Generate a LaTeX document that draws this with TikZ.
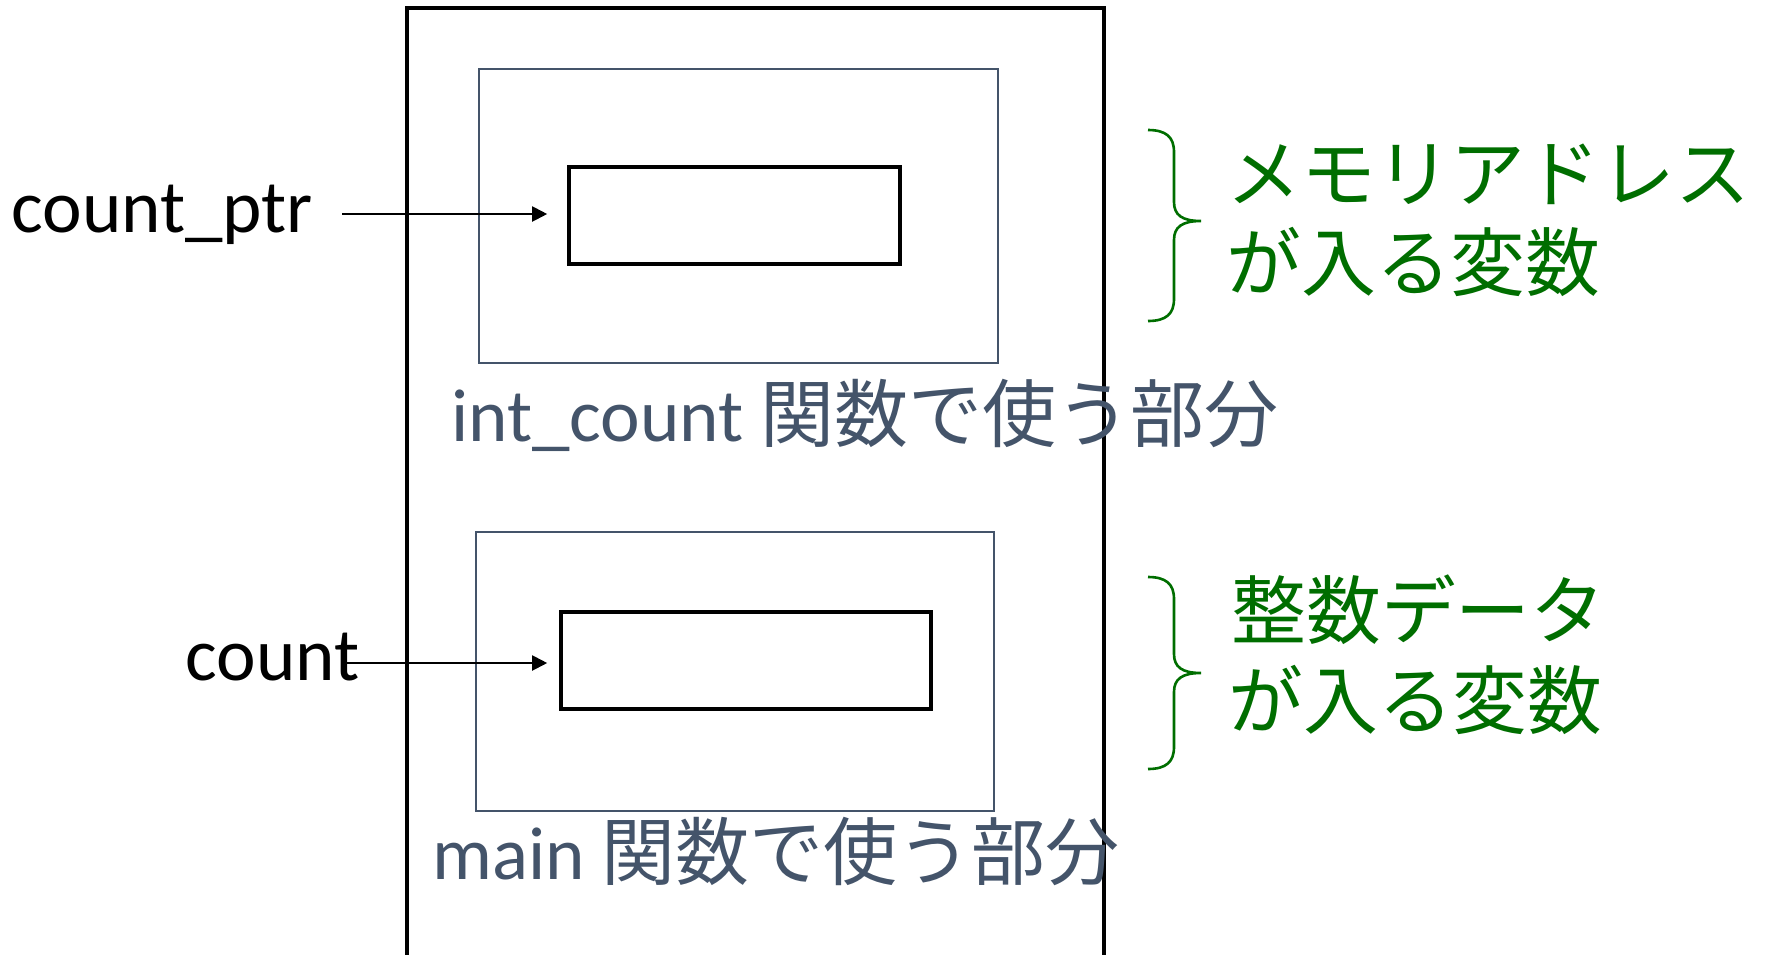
\documentclass[tikz,border=0pt]{standalone}
\usepackage{fontspec}
\setmainfont{Carlito}
\newfontfamily\jpfont{Noto Sans CJK JP}
\usetikzlibrary{arrows.meta}
\definecolor{slate}{HTML}{44546A}
\definecolor{notegreen}{RGB}{0,110,0}
\begin{document}
\begin{tikzpicture}[x=0.5pt,y=-0.5pt,
  framestyle/.style={line width=1.6pt},
  region/.style={draw=slate, line width=0.9pt, inner sep=0pt, rectangle},
  cell/.style={draw=black, line width=1.8pt, inner sep=0pt, rectangle},
  lbl/.style={anchor=base west, inner sep=0pt, font=\fontsize{37.5}{44}\selectfont},
  regionlbl/.style={lbl, text=slate},
  jplbl/.style={font=\fontsize{37}{44}\selectfont\jpfont},
  note/.style={anchor=base west, inner sep=0pt, text=notegreen, font=\fontsize{37.4}{44}\selectfont\jpfont},
  ptr/.style={-{Triangle[length=7.5pt,width=7.5pt]}, line width=1pt},
  bracestyle/.style={draw=notegreen, line width=1.3pt}
]
\useasboundingbox (0,0) rectangle (1768,954);

% outer memory frame (open at the bottom)
\draw[framestyle] (407,958) -- (407,8) -- (1104,8) -- (1104,958);

% regions
\node[region, minimum width=259.5pt, minimum height=147pt] (regU) at (738.5,216) {};
\node[region, minimum width=259pt, minimum height=139.5pt] (regL) at (735,671.5) {};

% variable cells
\node[cell, minimum width=165.5pt, minimum height=48.5pt] (cellU) at (734.5,215.5) {};
\node[cell, minimum width=185pt, minimum height=48.5pt] (cellL) at (746,660.5) {};

% region labels
\node[regionlbl] (lblU) at (451,441) {int\_count {\fontsize{37}{44}\selectfont\jpfont 関数で使う部分}};
\node[regionlbl] (lblL) at (432,879) {main {\fontsize{37}{44}\selectfont\jpfont 関数で使う部分}};

% variable names
\node[lbl] (ptrname) at (11,232) {count\_ptr};
\node[lbl] (cntname) at (185,680) {count};

% arrows
\coordinate (ptrstart) at (342,214);
\coordinate (cntstart) at (347,663);
\draw[ptr, shorten >=10pt] (ptrstart) -- (ptrstart -| cellU.west);
\draw[ptr, shorten >=6pt] (cntstart) -- (cntstart -| cellL.west);

% braces
\draw[bracestyle] (1148,130) .. controls (1166,130) and (1174,137) .. (1174,152)
  -- (1174,202) .. controls (1174,215) and (1182,221) .. (1201,221)
  .. controls (1182,221) and (1174,227) .. (1174,240)
  -- (1174,299) .. controls (1174,314) and (1166,321) .. (1148,321);
\draw[bracestyle] (1148,577) .. controls (1166,577) and (1174,584) .. (1174,599)
  -- (1174,654) .. controls (1174,667) and (1182,673) .. (1201,673)
  .. controls (1182,673) and (1174,679) .. (1174,692)
  -- (1174,747) .. controls (1174,762) and (1166,769) .. (1148,769);

% notes
\node[note] (noteU1) at (1226,201) {メモリアドレス};
\node[note] (noteU2) at (1226,290) {が入る変数};
\node[note] (noteL1) at (1231,638) {整数データ};
\node[note] (noteL2) at (1228,728) {が入る変数};
\end{tikzpicture}
\end{document}
